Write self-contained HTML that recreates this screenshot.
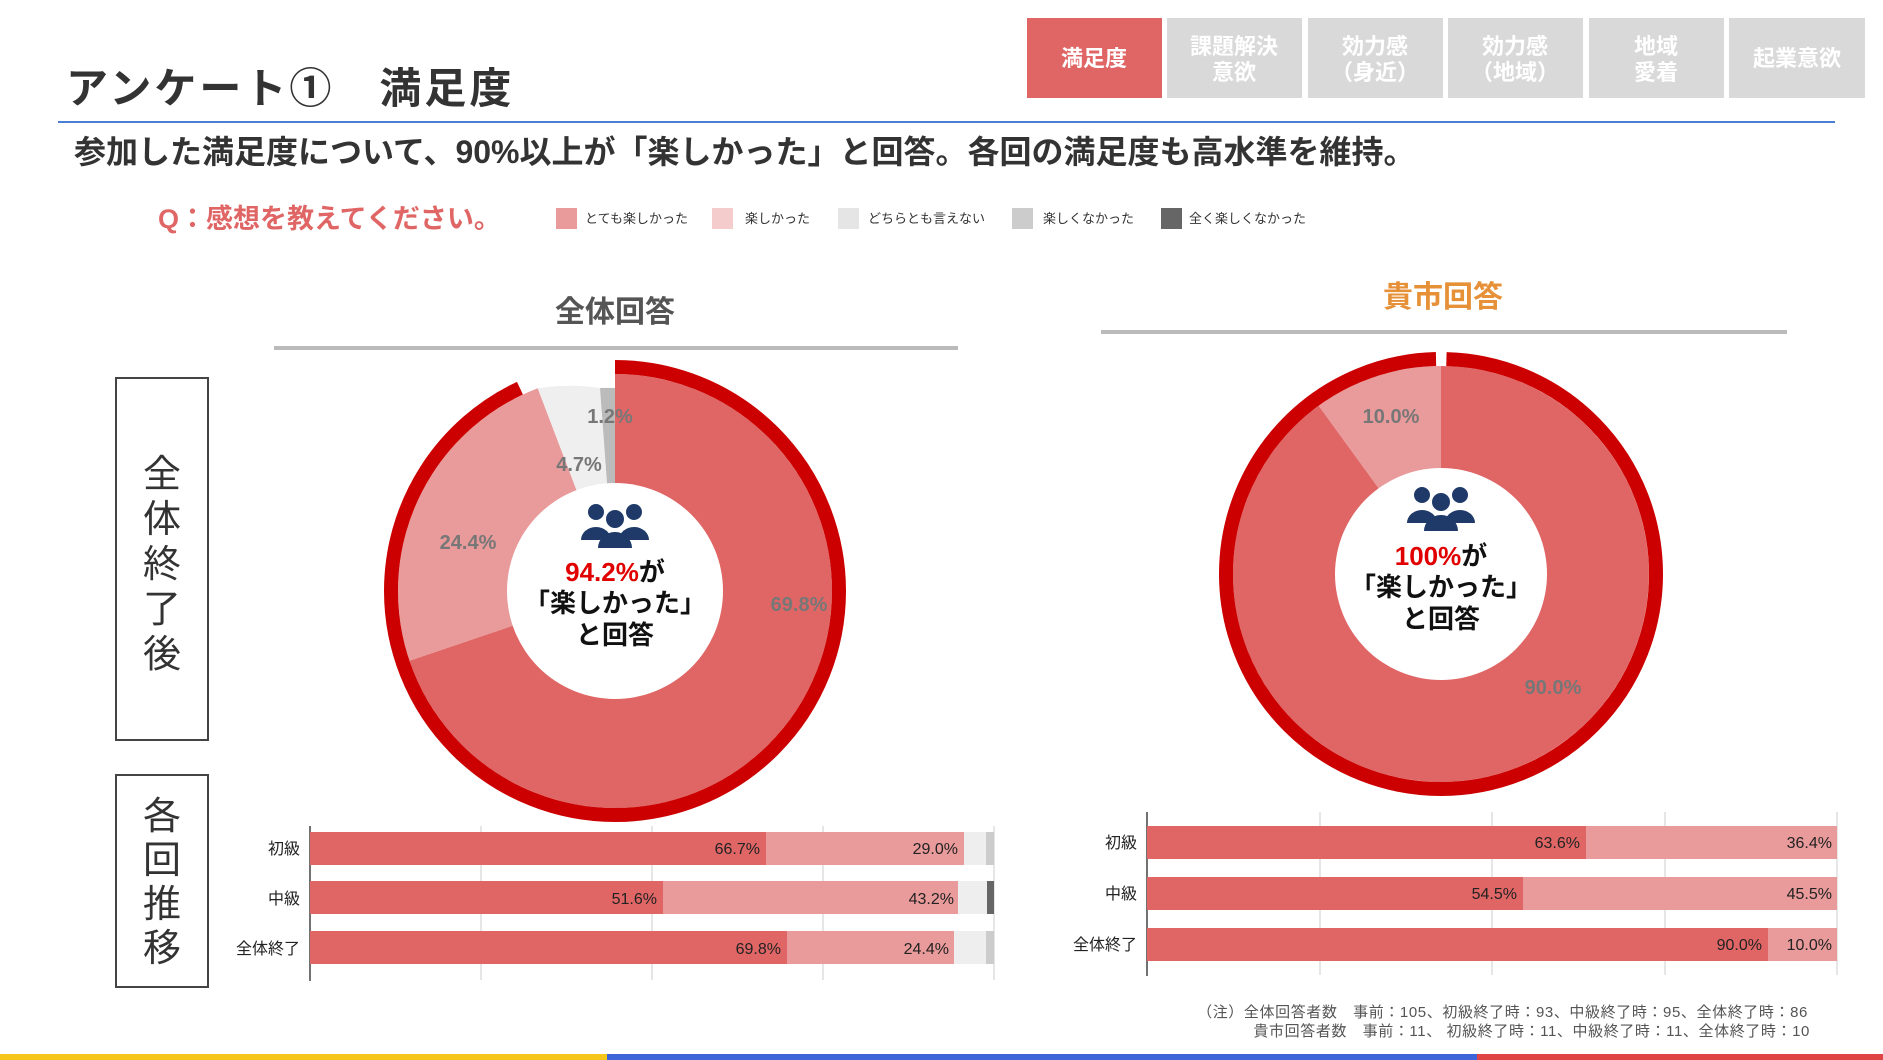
<!DOCTYPE html>
<html><head><meta charset="utf-8"><style>
html,body{margin:0;padding:0;background:#fff;}
svg{display:block;font-family:"Liberation Sans","Noto Sans CJK JP",sans-serif;}
</style></head><body>
<svg width="1883" height="1060" viewBox="0 0 1883 1060" xmlns="http://www.w3.org/2000/svg">
<!-- tabs -->
<rect x="1027" y="18" width="135" height="80" fill="#e06666"/>
<rect x="1167" y="18" width="135" height="80" fill="#d9d9d9"/>
<rect x="1308" y="18" width="135" height="80" fill="#d9d9d9"/>
<rect x="1448" y="18" width="135" height="80" fill="#d9d9d9"/>
<rect x="1589" y="18" width="135" height="80" fill="#d9d9d9"/>
<rect x="1729" y="18" width="136" height="80" fill="#d9d9d9"/>
<g font-size="22" font-weight="bold" fill="#fff" text-anchor="middle">
<text x="1094" y="66">満足度</text>
<text x="1234" y="54">課題解決</text><text x="1234" y="80">意欲</text>
<text x="1375" y="54">効力感</text><text x="1375" y="80">（身近）</text>
<text x="1515" y="54">効力感</text><text x="1515" y="80">（地域）</text>
<text x="1656" y="54">地域</text><text x="1656" y="80">愛着</text>
<text x="1797" y="66">起業意欲</text>
</g>
<text x="66" y="103" font-size="42" font-weight="bold" fill="#333" letter-spacing="3">アンケート①　満足度</text>
<rect x="58" y="121" width="1777" height="2" fill="#4a7fd6"/>
<text x="74" y="163" font-size="32" font-weight="bold" fill="#333">参加した満足度について、90%以上が「楽しかった」と回答。各回の満足度も高水準を維持。</text>
<text x="158" y="228" font-size="27" font-weight="bold" fill="#e06666">Q：感想を教えてください。</text>
<!-- legend -->
<g font-size="13" fill="#333">
<rect x="556" y="208" width="21" height="21" fill="#e99a9a"/><text x="585" y="223">とても楽しかった</text>
<rect x="712" y="208" width="21" height="21" fill="#f4cccc"/><text x="745" y="223">楽しかった</text>
<rect x="838" y="208" width="21" height="21" fill="#e5e5e5"/><text x="868" y="223">どちらとも言えない</text>
<rect x="1012" y="208" width="21" height="21" fill="#cccccc"/><text x="1043" y="223">楽しくなかった</text>
<rect x="1161" y="208" width="21" height="21" fill="#666"/><text x="1189" y="223">全く楽しくなかった</text>
</g>
<!-- headers -->
<text x="615" y="322" font-size="30" font-weight="bold" fill="#555" text-anchor="middle">全体回答</text>
<rect x="274" y="346" width="684" height="4" fill="#bbb"/>
<text x="1443" y="307" font-size="30" font-weight="bold" fill="#e69138" text-anchor="middle">貴市回答</text>
<rect x="1101" y="330" width="686" height="4" fill="#bbb"/>
<!-- vertical boxes -->
<rect x="116" y="378" width="92" height="362" fill="none" stroke="#444" stroke-width="2"/>
<g font-size="38" fill="#333" text-anchor="middle">
<text x="162" y="487">全</text><text x="162" y="532">体</text><text x="162" y="577">終</text><text x="162" y="622">了</text><text x="162" y="667">後</text>
</g>
<rect x="116" y="775" width="92" height="212" fill="none" stroke="#444" stroke-width="2"/>
<g font-size="38" fill="#333" text-anchor="middle">
<text x="162" y="829">各</text><text x="162" y="873">回</text><text x="162" y="917">推</text><text x="162" y="961">移</text>
</g>
<!-- left donut -->
<path d="M615 591 L615 374 A217 217 0 1 1 409.5 660.7 Z" fill="#e06666"/>
<path d="M615 591 L409.5 660.7 A217 217 0 0 1 537.7 388.3 Z" fill="#e99a9a"/>
<path d="M615 591 L537.7 388.3 A203 203 0 0 1 600 388 Z" fill="#efefef"/>
<path d="M615 591 L600 388 A203 203 0 0 1 615 388 Z" fill="#bbb"/>
<circle cx="615" cy="591" r="224" fill="none" stroke="#cc0000" stroke-width="14" stroke-dasharray="1309 200" transform="rotate(-90 615 591)"/>
<circle cx="615" cy="591" r="108" fill="#fff"/>
<g font-size="20" font-weight="bold" fill="#777" text-anchor="middle">
<text x="799" y="611">69.8%</text><text x="468" y="549">24.4%</text><text x="579" y="471">4.7%</text><text x="610" y="423">1.2%</text>
</g>
<g fill="#1f3a68">
<circle cx="596" cy="512" r="8"/><circle cx="634" cy="512" r="8"/><circle cx="615" cy="519" r="9"/>
<path d="M581 540 a15 13 0 0 1 30 0 z"/><path d="M619 540 a15 13 0 0 1 30 0 z"/><path d="M598 548 a17 16 0 0 1 34 0 z"/>
</g>
<g font-size="26" font-weight="bold" text-anchor="middle">
<text x="615" y="581"><tspan fill="#e00000">94.2%</tspan><tspan fill="#111">が</tspan></text>
<text x="615" y="612" fill="#111">「楽しかった」</text>
<text x="615" y="644" fill="#111">と回答</text>
</g>
<!-- right donut -->
<path d="M1441 574 L1441 366 A208 208 0 1 1 1318.7 405.7 Z" fill="#e06666"/>
<path d="M1441 574 L1318.7 405.7 A208 208 0 0 1 1441 366 Z" fill="#e99a9a"/>
<circle cx="1441" cy="574" r="215" fill="none" stroke="#cc0000" stroke-width="14" stroke-dasharray="1340 11" stroke-dashoffset="-5.5" transform="rotate(-90 1441 574)"/>
<circle cx="1441" cy="574" r="106" fill="#fff"/>
<g font-size="20" font-weight="bold" fill="#777" text-anchor="middle">
<text x="1391" y="423">10.0%</text><text x="1553" y="694">90.0%</text>
</g>
<g fill="#1f3a68">
<circle cx="1422" cy="495" r="8"/><circle cx="1460" cy="495" r="8"/><circle cx="1441" cy="502" r="9"/>
<path d="M1407 523 a15 13 0 0 1 30 0 z"/><path d="M1445 523 a15 13 0 0 1 30 0 z"/><path d="M1424 531 a17 16 0 0 1 34 0 z"/>
</g>
<g font-size="26" font-weight="bold" text-anchor="middle">
<text x="1441" y="565"><tspan fill="#e00000">100%</tspan><tspan fill="#111">が</tspan></text>
<text x="1441" y="596" fill="#111">「楽しかった」</text>
<text x="1441" y="628" fill="#111">と回答</text>
</g>
<!-- left bars -->
<g stroke="#ddd" stroke-width="1.5"><line x1="481" y1="826" x2="481" y2="980"/><line x1="652" y1="826" x2="652" y2="980"/><line x1="823" y1="826" x2="823" y2="980"/><line x1="994" y1="826" x2="994" y2="980"/></g>
<line x1="310" y1="826" x2="310" y2="981" stroke="#444" stroke-width="1.5"/>
<g>
<rect x="310" y="832" width="456" height="33" fill="#e06666"/><rect x="766" y="832" width="198" height="33" fill="#e99a9a"/><rect x="964" y="832" width="22" height="33" fill="#eee"/><rect x="986" y="832" width="8" height="33" fill="#ccc"/>
<rect x="310" y="881" width="353" height="33" fill="#e06666"/><rect x="663" y="881" width="295" height="33" fill="#e99a9a"/><rect x="958" y="881" width="29" height="33" fill="#eee"/><rect x="987" y="881" width="7" height="33" fill="#666"/>
<rect x="310" y="931" width="477" height="33" fill="#e06666"/><rect x="787" y="931" width="167" height="33" fill="#e99a9a"/><rect x="954" y="931" width="32" height="33" fill="#eee"/><rect x="986" y="931" width="8" height="33" fill="#ccc"/>
</g>
<g font-size="16" fill="#222" text-anchor="end">
<text x="300" y="854">初級</text><text x="300" y="904">中級</text><text x="300" y="954">全体終了</text>
<text x="760" y="854">66.7%</text><text x="958" y="854">29.0%</text>
<text x="657" y="904">51.6%</text><text x="954" y="904">43.2%</text>
<text x="781" y="954">69.8%</text><text x="949" y="954">24.4%</text>
</g>
<!-- right bars -->
<g stroke="#ddd" stroke-width="1.5"><line x1="1320" y1="812" x2="1320" y2="975"/><line x1="1492" y1="812" x2="1492" y2="975"/><line x1="1665" y1="812" x2="1665" y2="975"/><line x1="1837" y1="812" x2="1837" y2="975"/></g>
<line x1="1147" y1="812" x2="1147" y2="976" stroke="#444" stroke-width="1.5"/>
<rect x="1147" y="826" width="439" height="33" fill="#e06666"/><rect x="1586" y="826" width="251" height="33" fill="#e99a9a"/>
<rect x="1147" y="877" width="376" height="33" fill="#e06666"/><rect x="1523" y="877" width="314" height="33" fill="#e99a9a"/>
<rect x="1147" y="928" width="621" height="33" fill="#e06666"/><rect x="1768" y="928" width="69" height="33" fill="#e99a9a"/>
<g font-size="16" fill="#222" text-anchor="end">
<text x="1137" y="848">初級</text><text x="1137" y="899">中級</text><text x="1137" y="950">全体終了</text>
<text x="1580" y="848">63.6%</text><text x="1832" y="848">36.4%</text>
<text x="1517" y="899">54.5%</text><text x="1832" y="899">45.5%</text>
<text x="1762" y="950">90.0%</text><text x="1832" y="950">10.0%</text>
</g>
<!-- footnote -->
<g font-size="15" fill="#555" text-anchor="end" letter-spacing="0.6">
<text x="1808" y="1017">（注）全体回答者数　事前：105、初級終了時：93、中級終了時：95、全体終了時：86</text>
<text x="1810" y="1036">貴市回答者数　事前：11、 初級終了時：11、中級終了時：11、全体終了時：10</text>
</g>
<!-- bottom stripe -->
<rect x="0" y="1054" width="607" height="6" fill="#f6c61a"/>
<rect x="607" y="1054" width="870" height="6" fill="#3d64d8"/>
<rect x="1477" y="1054" width="406" height="6" fill="#e04545"/>
</svg>
</body></html>
